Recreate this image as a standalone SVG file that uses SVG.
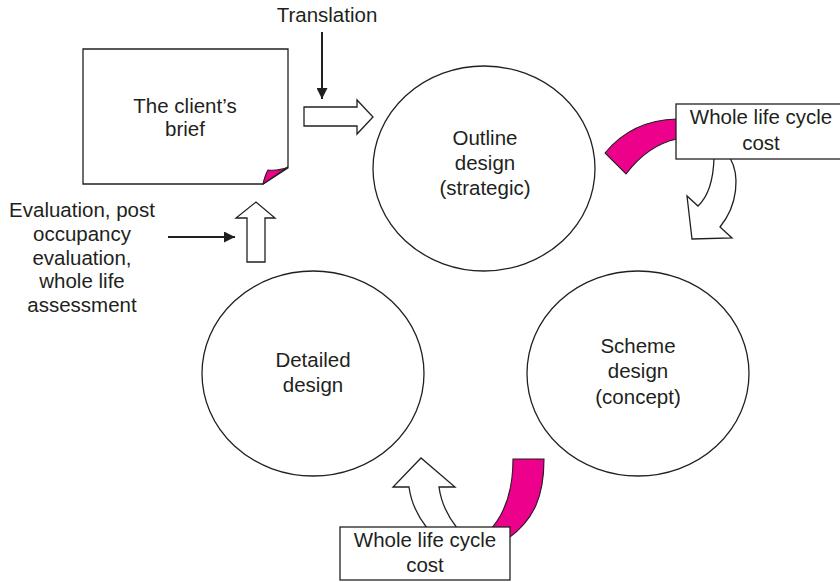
<svg xmlns="http://www.w3.org/2000/svg" width="840" height="582" viewBox="0 0 840 582">
  <defs>
    <style>
      .shape { fill: #ffffff; stroke: #231f20; stroke-width: 1.3; stroke-linejoin: miter; }
      .pink { fill: #ec008c; stroke: #231f20; stroke-width: 1.1; }
      .lbl { font-family: "Liberation Sans", Arial, Helvetica, sans-serif; font-size: 20.5px; fill: #231f20; text-anchor: middle; }
      .line { stroke: #231f20; stroke-width: 2; fill: none; }
    </style>
    <marker id="head" viewBox="0 0 10 10" refX="10" refY="5" markerWidth="5.5" markerHeight="5.5" markerUnits="strokeWidth" orient="auto">
      <path d="M0,0 L10,5 L0,10 Z" fill="#231f20"/>
    </marker>
  </defs>
  <rect width="840" height="582" fill="#ffffff"/>

  <!-- client's brief: sheet with a curled corner -->
  <g id="brief">
    <path class="shape" d="M83,49 L288,49 L288,168 L263,184 L83,184 Z"/>
    <path class="pink" d="M263,184 Q265,175 268,170 Q279,171 288,167 Z"/>
    <text class="lbl" x="185" y="113">The client’s</text>
    <text class="lbl" x="185" y="136">brief</text>
  </g>

  <g id="outline">
    <ellipse class="shape" cx="484" cy="168.5" rx="111" ry="102.5"/>
    <text class="lbl" x="485" y="145">Outline</text>
    <text class="lbl" x="485" y="170">design</text>
    <text class="lbl" x="485" y="195">(strategic)</text>
  </g>

  <g id="scheme">
    <ellipse class="shape" cx="638" cy="373.5" rx="111" ry="102.5"/>
    <text class="lbl" x="638" y="353">Scheme</text>
    <text class="lbl" x="638" y="378">design</text>
    <text class="lbl" x="638" y="404">(concept)</text>
  </g>

  <g id="detailed">
    <ellipse class="shape" cx="313" cy="373.5" rx="111" ry="102.5"/>
    <text class="lbl" x="313" y="367">Detailed</text>
    <text class="lbl" x="313" y="392">design</text>
  </g>

  <g id="translation">
    <text class="lbl" x="327" y="22">Translation</text>
  </g>

  <g id="evaluation">
    <text class="lbl" x="82" y="217">Evaluation, post</text>
    <text class="lbl" x="82" y="241">occupancy</text>
    <text class="lbl" x="82" y="265">evaluation,</text>
    <text class="lbl" x="82" y="288">whole life</text>
    <text class="lbl" x="82" y="312">assessment</text>
  </g>

  <g id="connectors">
    <!-- thin input arrows -->
    <line class="line" x1="322" y1="32" x2="322" y2="99" marker-end="url(#head)"/>
    <line class="line" x1="168" y1="237" x2="235" y2="237" marker-end="url(#head)"/>
    <!-- hollow block arrows -->
    <path class="shape" d="M304,107 L357,107 L357,100 L373,117 L357,134 L357,126 L304,126 Z"/>
    <path class="shape" d="M247,262 L247,218 L236,218 L256,202 L275,218 L265,218 L265,262 Z"/>
    <!-- curved hollow arrow from the top cost box down toward scheme design -->
    <path class="shape" d="M714,158 Q713,192 698,206 L687,196 L692,239 L732,238 L720,227 C738,205 740,175 730,158 Z"/>
    <!-- curved hollow arrow from the bottom cost box up toward detailed design -->
    <path class="shape" d="M427,528 Q412,509 409,487 L393,487 L421,458 L455,487 L439,487 Q442,509 457,528 Z"/>
    <!-- pink cost bands -->
    <path class="pink" d="M605,153 Q632,120 677,119 L677,139 Q648,145 626,174 Z"/>
    <path class="pink" d="M513,459 L544,459 C544,495 535,520 506,540 L488,532 C505,515 513,490 513,459 Z"/>
  </g>

  <g id="cost-top">
    <rect class="shape" x="676" y="104" width="174" height="55"/>
    <text class="lbl" x="761" y="124">Whole life cycle</text>
    <text class="lbl" x="761" y="150">cost</text>
  </g>

  <g id="cost-bottom">
    <rect class="shape" x="340" y="527" width="170" height="53"/>
    <text class="lbl" x="425" y="547">Whole life cycle</text>
    <text class="lbl" x="425" y="572">cost</text>
  </g>
</svg>
